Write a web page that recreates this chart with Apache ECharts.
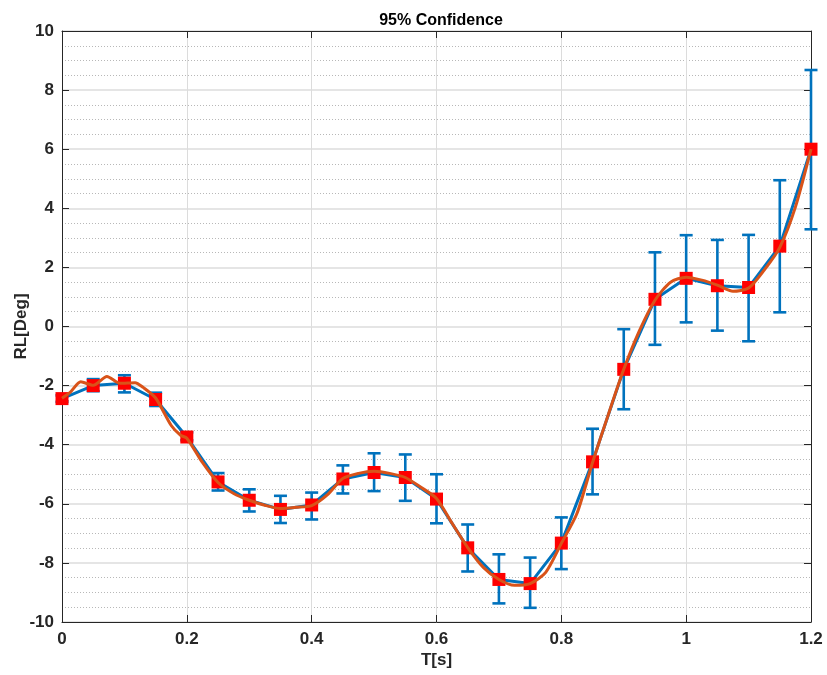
<!DOCTYPE html>
<html>
<head>
<meta charset="utf-8">
<script src="https://cdn.jsdelivr.net/npm/echarts@6/dist/echarts.min.js"></script>
<style>
html,body{margin:0;padding:0;background:#fff;}
#chart{width:827px;height:675px;}
</style>
</head>
<body>
<div id="chart"></div>
<script>
// ---- data ----
const tVals = [0,0.05,0.1,0.15,0.2,0.25,0.3,0.35,0.4,0.45,0.5,0.55,0.6,0.65,0.7,0.75,0.8,0.85,0.9,0.95,1.0,1.05,1.1,1.15,1.2];
const meanVals = [-2.44,-2.0,-1.92,-2.47,-3.74,-5.26,-5.88,-6.19,-6.04,-5.16,-4.94,-5.11,-5.84,-7.49,-8.56,-8.70,-7.33,-4.58,-1.45,0.92,1.63,1.38,1.32,2.72,6.0];
const upperVals = [-2.33,-1.78,-1.65,-2.24,-3.58,-4.96,-5.51,-5.73,-5.62,-4.70,-4.29,-4.33,-5.0,-6.70,-7.71,-7.82,-6.46,-3.46,-0.09,2.51,3.09,2.93,3.10,4.95,8.68];
const lowerVals = [-2.55,-2.19,-2.23,-2.69,-3.85,-5.55,-6.26,-6.65,-6.53,-5.65,-5.57,-5.90,-6.66,-8.29,-9.37,-9.52,-8.21,-5.68,-2.80,-0.62,0.14,-0.14,-0.50,0.48,3.29];
const fitT = [0,0.013,0.03,0.05,0.072,0.093,0.117,0.13,0.15,0.175,0.19,0.2,0.225,0.25,0.275,0.3,0.325,0.35,0.375,0.4,0.425,0.45,0.475,0.5,0.525,0.55,0.575,0.6,0.625,0.65,0.675,0.7,0.725,0.75,0.775,0.8,0.825,0.85,0.875,0.9,0.925,0.95,0.975,1.0,1.025,1.05,1.075,1.1,1.125,1.15,1.175,1.2];
const fitVals = [-2.43,-2.23,-1.87,-1.99,-1.69,-1.92,-1.9,-2.06,-2.42,-3.35,-3.68,-3.78,-4.6,-5.28,-5.65,-5.88,-6.05,-6.16,-6.12,-6.06,-5.7,-5.14,-4.97,-4.9,-4.97,-5.11,-5.44,-5.82,-6.66,-7.48,-8.15,-8.56,-8.76,-8.70,-8.32,-7.34,-6.33,-4.6,-3.0,-1.45,-0.15,0.89,1.50,1.67,1.57,1.40,1.19,1.30,1.91,2.68,4.04,6.0];
const xTicks = {min:0, max:1.2, step:0.2};
const yTicks = {min:-10, max:10, step:2};

const FONT = "'Liberation Sans', Arial, sans-serif";
const AX = '#262626';
const chart = echarts.init(document.getElementById('chart'), null, {renderer:'canvas'});

const errData = tVals.map((t,i)=>[t, lowerVals[i], upperVals[i]]);
const meanData = tVals.map((t,i)=>[t, meanVals[i]]);
const fitData = fitT.map((t,i)=>[t, fitVals[i]]);

const tickLabel = {fontFamily:FONT, fontWeight:'bold', fontSize:17, color:AX};

chart.setOption({
  animation:false,
  backgroundColor:'#fff',
  title:{text:'95% Confidence', left:436, top:8, textAlign:'center',
    textStyle:{fontFamily:FONT, fontWeight:'bold', fontSize:16, color:'#000'}},
  grid:{left:62, right:16, top:31, bottom:53, containLabel:false, outerBoundsMode:'none'},
  xAxis:[{
    type:'value', min:xTicks.min, max:xTicks.max, interval:xTicks.step, position:'bottom',
    name:'T[s]', nameLocation:'middle', nameGap:30, nameMoveOverlap:false,
    nameTextStyle:{fontFamily:FONT, fontWeight:'bold', fontSize:17, color:AX},
    axisLine:{show:true, onZero:false, lineStyle:{color:AX, width:1}},
    axisTick:{show:true, inside:true, length:7, lineStyle:{color:AX}},
    axisLabel:Object.assign({margin:9}, tickLabel),
    splitLine:{show:true, lineStyle:{color:'#dcdcdc', width:1}}
  },{
    type:'value', min:xTicks.min, max:xTicks.max, interval:xTicks.step, position:'top',
    axisLine:{show:true, onZero:false, lineStyle:{color:AX, width:1}},
    axisTick:{show:true, inside:true, length:7, lineStyle:{color:AX}},
    axisLabel:{show:false}, splitLine:{show:false}
  }],
  yAxis:[{
    type:'value', min:yTicks.min, max:yTicks.max, interval:yTicks.step, position:'left',
    name:'RL[Deg]', nameLocation:'middle', nameGap:32, nameRotate:90, nameMoveOverlap:false,
    nameTextStyle:{fontFamily:FONT, fontWeight:'bold', fontSize:17, color:AX},
    axisLine:{show:true, onZero:false, lineStyle:{color:AX, width:1}},
    axisTick:{show:true, inside:true, length:7, lineStyle:{color:AX}},
    axisLabel:Object.assign({margin:8}, tickLabel),
    splitLine:{show:true, lineStyle:{color:'#dcdcdc', width:1.5}},
    minorTick:{show:false, splitNumber:4},
    minorSplitLine:{show:true, lineStyle:{color:'#b8b8b8', width:1, type:[1,2]}}
  },{
    type:'value', min:yTicks.min, max:yTicks.max, interval:yTicks.step, position:'right',
    axisLine:{show:true, onZero:false, lineStyle:{color:AX, width:1}},
    axisTick:{show:true, inside:true, length:7, lineStyle:{color:AX}},
    axisLabel:{show:false}, splitLine:{show:false}
  }],
  series:[
    {
      type:'custom', xAxisIndex:0, yAxisIndex:0, z:2,
      data:errData,
      encode:{x:0, y:[1,2]},
      renderItem:function(params, api){
        const x = api.value(0);
        const lo = api.coord([x, api.value(1)]);
        const hi = api.coord([x, api.value(2)]);
        const hw = 6.5;
        const st = {stroke:'#0072BD', lineWidth:2.6, fill:null};
        return {type:'group', children:[
          {type:'line', shape:{x1:lo[0], y1:lo[1], x2:hi[0], y2:hi[1]}, style:st},
          {type:'line', shape:{x1:lo[0]-hw, y1:lo[1], x2:lo[0]+hw, y2:lo[1]}, style:st},
          {type:'line', shape:{x1:hi[0]-hw, y1:hi[1], x2:hi[0]+hw, y2:hi[1]}, style:st}
        ]};
      }
    },
    {
      type:'line', data:meanData, z:3, showSymbol:false, symbol:'none',
      lineStyle:{color:'#0072BD', width:3}, silent:true
    },
    {
      type:'scatter', data:meanData, z:4, symbol:'rect', symbolSize:13,
      itemStyle:{color:'#FF0000', opacity:1}
    },
    {
      type:'line', data:fitData, z:5, showSymbol:false, symbol:'none', smooth:0.25,
      lineStyle:{color:'#D95319', width:3}
    }
  ]
});
</script>
</body>
</html>
